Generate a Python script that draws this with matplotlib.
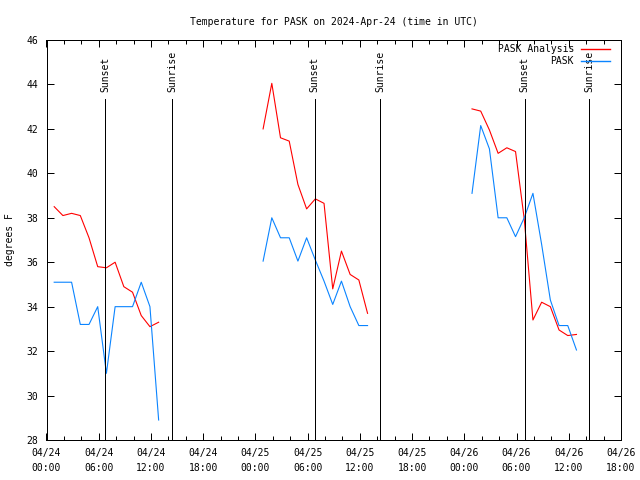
from datetime import datetime, timedelta
import matplotlib
matplotlib.use('Agg')
from matplotlib import pyplot as plt
import matplotlib.dates as mdates

# hourly obs, first one at 00:53 UTC each day
day_starts = [datetime(2024, 4, 24, 0, 53),
              datetime(2024, 4, 25, 0, 53),
              datetime(2024, 4, 26, 0, 53)]

analysis_day1 = [38.5, 38.1, 38.2, 38.1, 37.1, 35.8, 35.75, 36.0, 34.9, 34.65, 33.6, 33.1, 33.3]
analysis_day2 = [42.0, 44.05, 41.6, 41.45, 39.5, 38.4, 38.85, 38.65, 34.8, 36.5, 35.45, 35.2, 33.7]
analysis_day3 = [42.9, 42.8, 41.95, 40.9, 41.15, 40.98, 37.95, 33.4, 34.2, 34.0, 32.95, 32.7, 32.75]

obs_day1 = [35.1, 35.1, 35.1, 33.2, 33.2, 34.0, 31.0, 34.0, 34.0, 34.0, 35.1, 34.0, 28.9]
obs_day2 = [36.05, 38.0, 37.1, 37.1, 36.05, 37.1, 36.1, 35.15, 34.1, 35.15, 34.0, 33.15, 33.15]
obs_day3 = [39.1, 42.15, 41.1, 38.0, 38.0, 37.15, 38.0, 39.1, 36.8, 34.3, 33.15, 33.15, 32.05]

sunsets = [datetime(2024, 4, 24, 6, 46), datetime(2024, 4, 25, 6, 48), datetime(2024, 4, 26, 6, 55)]
sunrises = [datetime(2024, 4, 24, 14, 27), datetime(2024, 4, 25, 14, 22), datetime(2024, 4, 26, 14, 22)]

analysis = [analysis_day1, analysis_day2, analysis_day3]
obs = [obs_day1, obs_day2, obs_day3]


def times_for(start, n):
    return [start + timedelta(hours=k) for k in range(n)]


plt.rcParams['font.family'] = ['DejaVu Sans Mono']
plt.rcParams['font.size'] = 7

fig = plt.figure(figsize=(6.4, 4.8), dpi=100)
ax = fig.add_axes([46.5 / 640, 1 - 440 / 480, (621 - 46.5) / 640, 400 / 480])

LW = 0.72   # one pixel, like gnuplot
DLW = 0.8
for i in range(3):
    t = times_for(day_starts[i], len(analysis[i]))
    ax.plot(t, analysis[i], color='#ff0000', linewidth=DLW,
            label='PASK Analysis' if i == 0 else None)
    ax.plot(t, obs[i], color='#0a84ff', linewidth=DLW,
            label='PASK' if i == 0 else None)

# sunset / sunrise markers
for s in sunsets:
    ax.plot([s, s], [28, 43.34], color='black', linewidth=LW, antialiased=False)
    ax.text(s, 43.66, 'Sunset', rotation=90, ha='center', va='bottom')
for s in sunrises:
    ax.plot([s, s], [28, 43.34], color='black', linewidth=LW, antialiased=False)
    ax.text(s, 43.66, 'Sunrise', rotation=90, ha='center', va='bottom')

ax.set_xlim(datetime(2024, 4, 24, 0, 0), datetime(2024, 4, 26, 18, 0))
ax.set_ylim(28, 46)
ax.set_yticks(range(28, 47, 2))
ax.xaxis.set_major_locator(mdates.HourLocator(byhour=[0, 6, 12, 18]))
ax.xaxis.set_minor_locator(mdates.HourLocator(byhour=range(0, 24, 2)))
ax.xaxis.set_major_formatter(mdates.DateFormatter('%m/%d\n%H:%M'))
ax.tick_params(which='major', direction='in', length=5, width=LW,
               top=True, right=True, pad=6)
ax.tick_params(which='minor', direction='in', length=3, width=LW, top=True)
for lab in ax.get_xticklabels():
    lab.set_linespacing(1.6)
for sp in ax.spines.values():
    sp.set_linewidth(LW)

ax.set_ylabel('degrees F', labelpad=8)
ax.set_title('Temperature for PASK on 2024-Apr-24 (time in UTC)', fontsize=7, pad=11)

leg = ax.legend(loc='upper right', frameon=False, markerfirst=False,
                handlelength=3.0, handletextpad=0.7, labelspacing=0.25,
                borderpad=0, borderaxespad=0,
                bbox_to_anchor=(1 - 11 / 574.5, 1 - 4 / 400))
for h in leg.get_lines():
    h.set_linewidth(1.0)

fig.savefig('out.png', dpi=100)
